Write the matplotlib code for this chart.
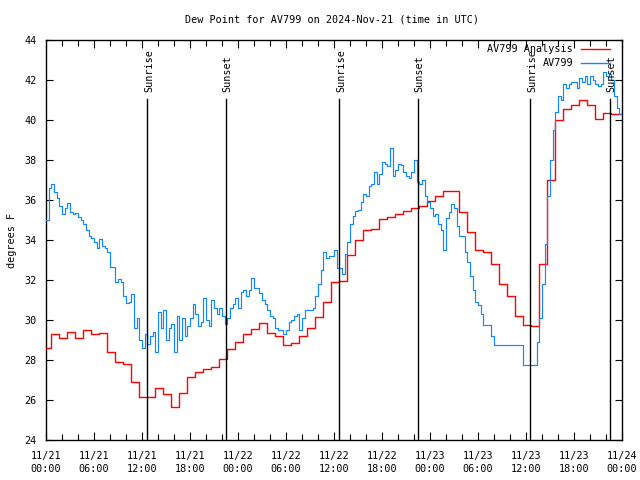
import numpy as np
import matplotlib
matplotlib.use("Agg")
import matplotlib.pyplot as plt
from matplotlib.ticker import MultipleLocator

# ---------------- data ----------------
title = "Dew Point for AV799 on 2024-Nov-21 (time in UTC)"
ylabel = "degrees F"
x_tick_hours = [0, 6, 12, 18, 24, 30, 36, 42, 48, 54, 60, 66, 72]
x_tick_labels = ["11/21\n00:00", "11/21\n06:00", "11/21\n12:00", "11/21\n18:00",
                 "11/22\n00:00", "11/22\n06:00", "11/22\n12:00", "11/22\n18:00",
                 "11/23\n00:00", "11/23\n06:00", "11/23\n12:00", "11/23\n18:00",
                 "11/24\n00:00"]
y_ticks = [24, 26, 28, 30, 32, 34, 36, 38, 40, 42, 44]

# sun events (hours since 11/21 00:00 UTC)
sun_hours = [12.67, 22.5, 36.68, 46.5, 60.55, 70.5]
sun_labels = ["Sunrise", "Sunset", "Sunrise", "Sunset", "Sunrise", "Sunset"]

# AV799 observations, every 20 minutes from 11/21 00:00 (hour rows of 3)
av799 = [
    35.0, 36.6, 36.8,   36.4, 36.1, 35.7,   35.3, 35.6, 35.85,  35.4, 35.3, 35.37,
    35.15, 35.0, 34.8,  34.5, 34.2, 34.1,   33.9, 33.6, 34.05,  33.7, 33.6, 33.4,
    32.67, 32.67, 31.9, 32.05, 31.9, 31.2,  30.85, 30.9, 31.3,  29.6, 30.1, 29.0,
    28.6, 29.3, 28.8,   29.2, 29.4, 28.4,   30.4, 29.6, 30.5,   29.0, 29.6, 29.8,
    28.4, 30.2, 29.0,   30.1, 29.2, 29.7,   30.1, 30.8, 30.3,   29.7, 29.9, 31.1,
    30.0, 29.7, 31.0,   30.6, 30.3, 30.6,   30.2, 29.8, 30.1,   30.6, 30.8, 31.1,
    30.6, 31.4, 31.5,   31.2, 31.5, 32.1,   31.6, 31.6, 31.35,  31.0, 30.8, 30.5,
    30.2, 30.1, 29.6,   29.5, 29.5, 29.3,   29.5, 29.9, 30.0,   30.2, 30.3, 29.5,
    30.1, 30.5, 30.5,   30.5, 30.6, 31.2,   31.8, 32.5, 33.4,   33.1, 33.2, 33.2,
    33.5, 32.6, 32.6,   32.3, 33.3, 33.9,   34.8, 35.2, 35.45,  35.5, 35.9, 36.3,
    36.2, 36.7, 36.8,   37.4, 36.8, 37.3,   37.9, 37.8, 37.7,   38.6, 37.2, 37.5,
    37.8, 37.75, 37.4,  37.2, 37.1, 37.4,   38.0, 36.9, 36.8,   37.0, 36.2, 35.9,
    35.6, 35.2, 35.3,   34.8, 34.5, 33.5,   35.1, 35.4, 35.8,   35.6, 34.7, 34.2,
    34.2, 33.4, 32.9,   32.2, 31.5, 30.9,   30.75, 30.3, 29.75, 29.75, 29.75, 29.2,
    28.75, 28.75, 28.75, 28.75, 28.75, 28.75, 28.75, 28.75, 28.75, 28.75, 28.75, 27.75,
    27.75, 27.75, 27.75, 27.75, 28.9, 30.1, 31.8, 33.8, 36.2,   38.0, 39.5, 40.4,
    41.2, 41.0, 41.8,   41.6, 41.8, 41.9,   41.9, 41.6, 42.1,   41.9, 42.2, 41.8,
    42.2, 42.0, 41.8,   41.7, 41.8, 42.4,   42.2, 42.3, 42.0,   41.2, 40.6, 40.3,
    40.5,
]

# AV799 Analysis, hourly values (each valid from ~hh:39 of previous hour)
analysis = [
    28.6, 29.3, 29.1, 29.4, 29.1, 29.5, 29.3, 29.35, 28.4, 27.9, 27.8, 26.9,
    26.17, 26.17, 26.58, 26.28, 25.65, 26.33, 27.13, 27.38, 27.53, 27.63, 28.03, 28.53,
    28.9, 29.28, 29.53, 29.85, 29.33, 29.2, 28.75, 28.87, 29.2, 29.58, 30.13, 30.88,
    31.88, 31.95, 33.23, 33.98, 34.5, 34.55, 35.05, 35.15, 35.28, 35.43, 35.58, 35.68,
    35.93, 36.2, 36.43, 36.47, 35.42, 34.38, 33.48, 33.38, 32.78, 31.78, 31.22, 30.2,
    29.73, 29.7, 32.8, 37.0, 40.0, 40.53, 40.77, 40.98, 40.73, 40.03, 40.35, 40.3,
    40.3,
]

# ---------------- plot ----------------
mono = ["DejaVu Sans Mono"]
fs = 7.3
blue = "#1187ff"
red = "#ff0000"

t_obs = np.arange(len(av799)) / 3.0
t_ana = np.concatenate([[0.0], np.arange(1, len(analysis)) - 0.35, [72.0]])
v_ana = list(analysis) + [analysis[-1]]

fig = plt.figure(figsize=(6.4, 4.8), dpi=100)
ax = fig.add_axes([46 / 640, 1 - 440 / 480, 576 / 640, 400 / 480])

ax.plot(t_ana, v_ana, drawstyle="steps-post", color=red, lw=1.0, zorder=3)
ax.plot(t_obs, av799, drawstyle="steps-post", color=blue, lw=0.85, zorder=4)

for h, lab in zip(sun_hours, sun_labels):
    ax.plot([h, h], [24, 41.05], color="black", lw=1.0, zorder=5)
    ax.text(h + 0.2, 41.4, lab, rotation=90, ha="center", va="bottom",
            fontsize=fs, family=mono, zorder=6)

ax.set_xlim(0, 72)
ax.set_ylim(24, 44)
ax.set_xticks(x_tick_hours)
ax.set_xticklabels(x_tick_labels, family=mono, fontsize=fs, linespacing=1.35)
ax.xaxis.set_minor_locator(MultipleLocator(2))
ax.set_yticks(y_ticks)
ax.set_yticklabels([str(v) for v in y_ticks], family=mono, fontsize=fs)
ax.tick_params(axis="both", which="both", direction="in", top=True, right=True,
               color="black", width=0.8)
ax.tick_params(axis="x", which="major", length=6, pad=8)
ax.tick_params(axis="x", which="minor", length=4)
ax.tick_params(axis="y", which="major", length=5, pad=7)
for s in ax.spines.values():
    s.set_linewidth(1.0)
    s.set_color("black")

ax.set_ylabel(ylabel, family=mono, fontsize=fs, labelpad=5)
fig.text(332 / 640, 1 - 20 / 480, title, ha="center", va="center",
         family=mono, fontsize=fs)

# legend (gnuplot style, top right inside)
leg = [("AV799 Analysis", red, 0.9775), ("AV799", blue, 0.943)]
for lab, col, yy in leg:
    ax.text(0.915, yy, lab, transform=ax.transAxes, ha="right", va="center",
            family=mono, fontsize=fs, zorder=7)
    ax.plot([0.928, 0.979], [yy, yy], transform=ax.transAxes, color=col,
            lw=1.0, clip_on=False, zorder=7)

fig.savefig("out.png", dpi=100)
